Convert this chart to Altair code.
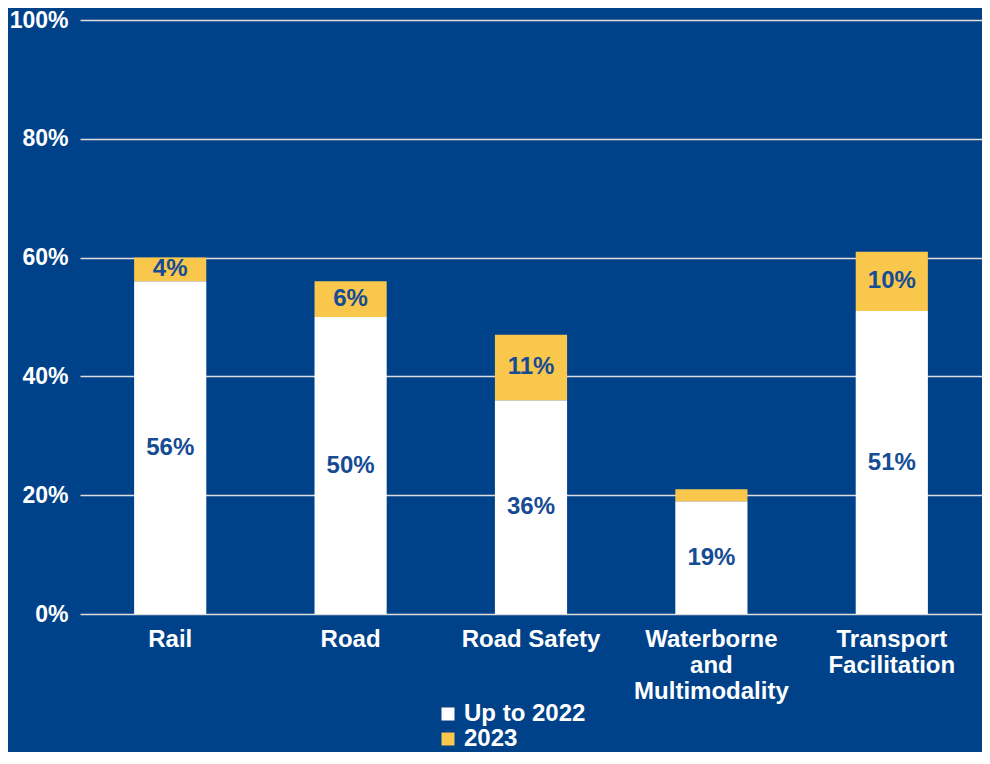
import altair as alt
import pandas as pd

categories = ["Rail", "Road", "Road Safety", "Waterborne\nand\nMultimodality", "Transport\nFacilitation"]
up_to_2022 = [56, 50, 36, 19, 51]
y2023 = [4, 6, 11, 2, 10]
series = ["Up to 2022", "2023"]
y_ticks = [0, 20, 40, 60, 80, 100]

rows = []
for i, c in enumerate(categories):
    rows.append({"cat": c, "series": series[0], "value": up_to_2022[i], "ord": 0})
    rows.append({"cat": c, "series": series[1], "value": y2023[i], "ord": 1})
df = pd.DataFrame(rows)

BG = "#00428A"
YEL = "#F9C74C"
TXT = "#154C94"
FONT = "Liberation Sans"

base = alt.Chart(df).transform_stack(
    stack="value", groupby=["cat"], as_=["v0", "v1"],
    sort=[alt.SortField("ord", order="ascending")]
)

x_enc = alt.X(
    "cat:N", sort=categories, title=None,
    scale=alt.Scale(paddingInner=0.6, paddingOuter=0.3),
    axis=alt.Axis(
        labelAngle=0, labelFont=FONT, labelFontSize=24, labelFontWeight="bold",
        labelColor="white", labelPadding=13, labelLineHeight=26,
        labelExpr="split(datum.label, '\\n')", labelOverlap=False, labelLimit=400,
        ticks=False, domain=False, grid=False,
    ),
)

y_enc = alt.Y(
    "v0:Q", title=None, scale=alt.Scale(domain=[0, 100], nice=False),
    axis=alt.Axis(
        values=y_ticks, labelExpr="datum.value + '%'", labelFont=FONT,
        labelFontSize=23, labelFontWeight="bold", labelColor="white",
        labelPadding=12, grid=True, gridColor="#DDDDDD", gridWidth=1.5,
        domain=False, ticks=False,
    ),
)

bars = base.mark_bar().encode(
    x=x_enc,
    y=y_enc,
    y2="v1:Q",
    color=alt.Color(
        "series:N", sort=series,
        scale=alt.Scale(domain=series, range=["#FFFFFF", YEL]),
        legend=alt.Legend(
            title=None, orient="none", legendX=356, legendY=682,
            direction="vertical", symbolType="square", symbolSize=169,
            symbolStrokeWidth=0, labelFont=FONT, labelFontSize=24,
            labelFontWeight="bold", labelColor="white", labelOffset=4,
            rowPadding=1, padding=0,
        ),
    ),
)

labels = base.transform_filter("datum.value >= 3").transform_calculate(
    mid="(datum.v0 + datum.v1) / 2", lbl="datum.value + '%'"
).mark_text(font=FONT, fontSize=24, fontWeight="bold", color=TXT).encode(
    x=alt.X("cat:N", sort=categories),
    y="mid:Q",
    text="lbl:N",
)

chart = alt.layer(bars, labels).properties(
    width=902, height=594,
    autosize=alt.AutoSizeParams(type="none"),
    padding={"left": 72, "top": 12, "right": 0, "bottom": 138},
    background=BG,
).configure_view(stroke=None)

chart.save("out.html", embed_options={"renderer": "svg", "actions": False})
